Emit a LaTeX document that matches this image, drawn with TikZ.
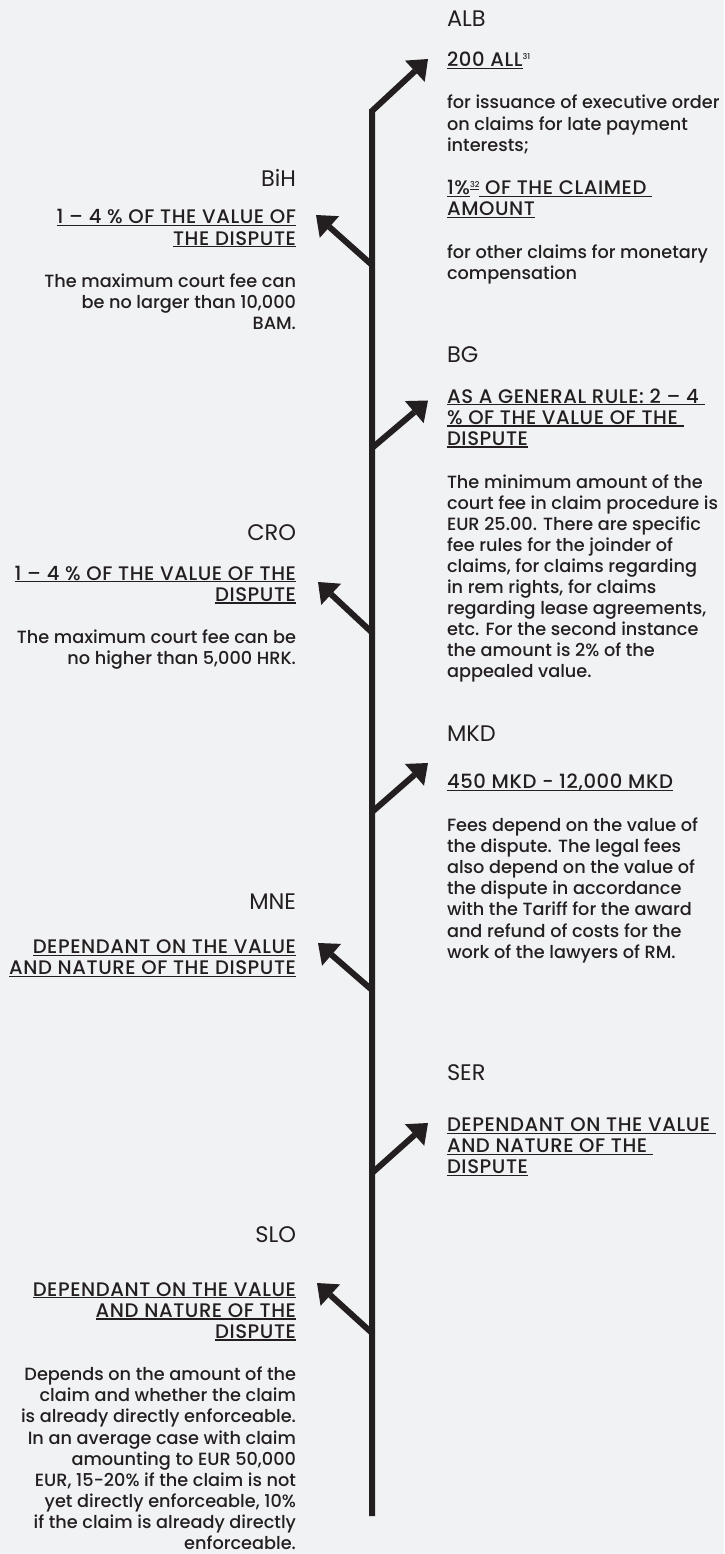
\documentclass[tikz,border=0pt]{standalone}
\usepackage{fontspec}
\setmainfont{Poppins}
\newfontfamily\bodyfont{Poppins Medium}
\usetikzlibrary{arrows.meta}
\definecolor{bg}{HTML}{F1F2F4}
\definecolor{ink}{HTML}{231F20}
\newcommand\ulin[1]{\setbox0=\hbox{#1}\rlap{\rule[-2.4pt]{\wd0}{1.2pt}}\box0}
\newcommand\hd[1]{{\fontsize{19.6}{21}\selectfont\addfontfeature{LetterSpace=3}\ulin{#1}}}
\newcommand\supn[1]{\raisebox{7pt}{\fontsize{8}{8}\selectfont #1}}
\tikzset{
  txt/.style={inner sep=0pt, outer sep=0pt, text=ink, font=\bodyfont\fontsize{17.7}{21.1}\selectfont},
  country/.style={inner sep=0pt, outer sep=0pt, text=ink, font=\fontsize{22.5}{24}\selectfont},
  branch/.style={draw=ink, line width=6pt, -{Triangle[length=18pt,width=29pt,line width=0pt]}},
}
\newcommand\txtlines[5]{%
  \foreach \lineT [count=\i] in {#5} {\node[txt, anchor=base #4] (#1-\i) at (#2, {#3+21.1*(\i-1)}) {\lineT};}}
\begin{document}
\begin{tikzpicture}[x=1pt,y=-1pt]
\fill[bg] (0,0) rectangle (724,1554);
\useasboundingbox (0,0) rectangle (724,1554);

% ---------- right column ----------
\node[country, anchor=base west] (alb) at (447,26.7) {ALB};
\node[txt, anchor=base west] (alb-h) at (447,66.7) {\hd{200 ALL}\supn{31}};
\txtlines{albA}{447}{109}{west}{{for issuance of executive order},{on claims for late payment},{interests;}}
\txtlines{albH}{447}{194.5}{west}{{\hd{1\%}\supn{\ulin{32}}\hd{ OF THE CLAIMED }},{\hd{AMOUNT}}}
\txtlines{albB}{447}{258.3}{west}{{for other claims for monetary},{compensation}}

\node[country, anchor=base west] (bg) at (447,362) {BG};
\txtlines{bgH}{447}{403}{west}{{\hd{AS A GENERAL RULE: 2 – 4 }},{\hd{\% OF THE VALUE OF THE }},{\hd{DISPUTE}}}
\txtlines{bgB}{447}{488}{west}{{The minimum amount of the},{court fee in claim procedure is},{EUR 25.00. There are specific},{fee rules for the joinder of},{claims, for claims regarding},{in rem rights, for claims},{regarding lease agreements,},{etc. For the second instance},{the amount is 2\% of the},{appealed value.}}

\node[country, anchor=base west] (mkd) at (447,741) {MKD};
\node[txt, anchor=base west] (mkd-h) at (447,788.5) {\hd{450 MKD - 12,000 MKD}};
\txtlines{mkdB}{447}{831.5}{west}{{Fees depend on the value of},{the dispute. The legal fees},{also depend on the value of},{the dispute in accordance},{with the Tariff for the award},{and refund of costs for the},{work of the lawyers of RM.}}

\node[country, anchor=base west] (ser) at (447,1080.7) {SER};
\txtlines{serH}{447}{1131.7}{west}{{\hd{DEPENDANT ON THE VALUE }},{\hd{AND NATURE OF THE }},{\hd{DISPUTE}}}

% ---------- left column ----------
\node[country, anchor=base east] (bih) at (296,186.7) {BiH};
\txtlines{bihH}{296}{224}{east}{{\hd{1 – 4 \% OF THE VALUE OF}},{\hd{THE DISPUTE}}}
\txtlines{bihB}{296}{287.5}{east}{{The maximum court fee can},{be no larger than 10,000},{BAM.}}

\node[country, anchor=base east] (cro) at (296,540) {CRO};
\txtlines{croH}{296}{580}{east}{{\hd{1 – 4 \% OF THE VALUE OF THE}},{\hd{DISPUTE}}}
\txtlines{croB}{296}{643.5}{east}{{The maximum court fee can be},{no higher than 5,000 HRK.}}

\node[country, anchor=base east] (mne) at (296,909.3) {MNE};
\txtlines{mneH}{296}{953.3}{east}{{\hd{DEPENDANT ON THE VALUE}},{\hd{AND NATURE OF THE DISPUTE}}}

\node[country, anchor=base east] (slo) at (296,1242.3) {SLO};
\txtlines{sloH}{296}{1296}{east}{{\hd{DEPENDANT ON THE VALUE}},{\hd{AND NATURE OF THE}},{\hd{DISPUTE}}}
\txtlines{sloB}{296}{1380.7}{east}{{Depends on the amount of the},{claim and whether the claim},{is already directly enforceable.},{In an average case with claim},{amounting to EUR 50,000},{EUR, 15-20\% if the claim is not},{yet directly enforceable, 10\%},{if the claim is already directly},{enforceable.}}

% ---------- trunk and branches ----------
\coordinate (tb) at (372,1516);
\coordinate (tt) at (372,111);
\coordinate (aALB) at (428,59);
\coordinate (jBiH) at (372,265);  \coordinate (aBiH) at (316,215);
\coordinate (jBG) at (372,448);   \coordinate (aBG) at (428,400.5);
\coordinate (jCRO) at (372,632.5);\coordinate (aCRO) at (318,582);
\coordinate (jMKD) at (372,812);  \coordinate (aMKD) at (428,763);
\coordinate (jMNE) at (372,990);  \coordinate (aMNE) at (318,943);
\coordinate (jSER) at (372,1173); \coordinate (aSER) at (428,1123);
\coordinate (jSLO) at (372,1333); \coordinate (aSLO) at (317,1283);

\draw[branch, line join=miter] (tb) -- (tt) -- (aALB);
\draw[branch] (jBiH) -- (aBiH);
\draw[branch] (jBG) -- (aBG);
\draw[branch] (jCRO) -- (aCRO);
\draw[branch] (jMKD) -- (aMKD);
\draw[branch] (jMNE) -- (aMNE);
\draw[branch] (jSER) -- (aSER);
\draw[branch] (jSLO) -- (aSLO);
\end{tikzpicture}
\end{document}
